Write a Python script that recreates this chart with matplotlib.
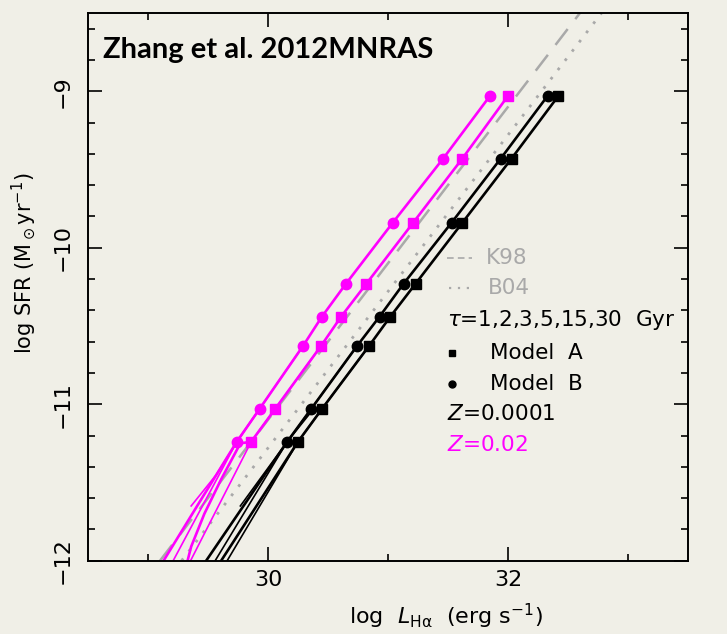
import matplotlib.pyplot as plt
from matplotlib.ticker import FixedLocator, MultipleLocator

# log SFR levels at which the model points are marked
sfr_marks = [-9.03, -9.43, -9.84, -10.23, -10.44, -10.63, -11.03, -11.24]

# log L(Halpha) of the marked points, Z=0.0001 (black)
lha_low_B = [32.33, 31.94, 31.53, 31.13, 30.93, 30.74, 30.36, 30.16]
lha_low_A = [32.42, 32.03, 31.62, 31.23, 31.02, 30.84, 30.45, 30.25]
# Z=0.02 (magenta)
lha_sol_B = [31.85, 31.46, 31.04, 30.65, 30.45, 30.29, 29.93, 29.74]
lha_sol_A = [32.00, 31.62, 31.21, 30.82, 30.61, 30.44, 30.06, 29.86]

# faint ends of the tau tracks below the last marked point
low_B_tail_x = [30.16, 29.485]
low_B_tail2_x = [30.74, 30.36, 30.16, 29.56]
low_B_tail2_y = [-10.63, -11.03, -11.24, -12.0]
low_B_start_x = [29.77, 30.16, 30.38]
low_B_start_y = [-11.65, -11.24, -11.03]
low_A_tail_x = [30.25, 29.61]
low_A_tail2_x = [30.84, 30.45, 30.25, 29.66]
low_A_tail2_y = [-10.63, -11.03, -11.24, -12.0]

sol_B_tail_x = [29.74, 29.45, 29.13]
sol_B_tail_y = [-11.24, -11.6, -12.0]
sol_B_tail2_x = [30.29, 29.93, 29.74, 29.21]
sol_B_tail2_y = [-10.63, -11.03, -11.24, -12.0]
sol_B_start_x = [29.36, 29.57, 29.74, 29.93]
sol_B_start_y = [-11.65, -11.45, -11.24, -11.03]
sol_A_tail_x = [29.86, 29.77, 29.61, 29.47, 29.36, 29.33]
sol_A_tail_y = [-11.24, -11.25, -11.48, -11.70, -11.91, -12.0]
sol_A_tail2_x = [30.44, 30.06, 29.86, 29.355]
sol_A_tail2_y = [-10.63, -11.03, -11.24, -12.0]

# calibrations
k98_x = [29.10, 32.60]
k98_y = [-12.0, -8.5]
b04_x = [29.28, 32.78]
b04_y = [-12.0, -8.5]

bg = '#f0efe7'
mag = '#ff00ff'
grey = '#a9a9a9'

plt.rcParams['font.family'] = 'DejaVu Sans'
plt.rcParams['mathtext.fontset'] = 'dejavusans'

fig = plt.figure(figsize=(7.27, 6.34), dpi=100, facecolor=bg)
ax = fig.add_axes([0.121, 0.1156, 0.8253, 0.8639])
ax.set_facecolor(bg)

ax.plot(k98_x, k98_y, color=grey, lw=1.8, dashes=(8, 5))
ax.plot(b04_x, b04_y, color=grey, lw=2.0, dashes=(1, 3.2))

# Z = 0.0001
ax.plot(lha_low_B + low_B_tail_x[1:], sfr_marks + [-12.0], color='k', lw=1.9)
ax.plot(low_B_tail2_x, low_B_tail2_y, color='k', lw=1.2)
ax.plot(low_B_start_x, low_B_start_y, color='k', lw=1.2)
ax.plot(lha_low_A + low_A_tail_x[1:], sfr_marks + [-12.0], color='k', lw=1.9)
ax.plot(low_A_tail2_x, low_A_tail2_y, color='k', lw=1.2)
ax.plot(lha_low_B, sfr_marks, 'o', color='k', ms=7.5)
ax.plot(lha_low_A, sfr_marks, 's', color='k', ms=7)

# Z = 0.02
ax.plot(lha_sol_B + sol_B_tail_x[1:], sfr_marks + sol_B_tail_y[1:], color=mag, lw=1.9)
ax.plot(sol_B_tail2_x, sol_B_tail2_y, color=mag, lw=1.2)
ax.plot(sol_B_start_x, sol_B_start_y, color=mag, lw=1.2)
ax.plot(lha_sol_A + sol_A_tail_x[1:], sfr_marks + sol_A_tail_y[1:], color=mag, lw=1.9)
ax.plot(sol_A_tail2_x, sol_A_tail2_y, color=mag, lw=1.2)
ax.plot(lha_sol_B, sfr_marks, 'o', color=mag, ms=7.5)
ax.plot(lha_sol_A, sfr_marks, 's', color=mag, ms=7)

ax.set_xlim(28.5, 33.5)
ax.set_ylim(-12, -8.5)

ax.xaxis.set_major_locator(FixedLocator([30, 32]))
ax.xaxis.set_minor_locator(FixedLocator([29, 31, 33]))
ax.yaxis.set_major_locator(MultipleLocator(1))
ax.yaxis.set_minor_locator(MultipleLocator(0.2))
ax.tick_params(which='both', direction='in', top=True, right=True, width=1.2)
ax.tick_params(which='major', length=10, labelsize=16)
ax.tick_params(which='minor', length=5)
ax.tick_params(axis='x', pad=7)
ax.tick_params(axis='y', pad=11)
for lab in ax.get_yticklabels():
    lab.set_rotation(90)
    lab.set_va('center')
for sp in ax.spines.values():
    sp.set_linewidth(1.4)

ax.set_xlabel(r'log  $L_{\rm H\alpha}$  (erg s$^{-1}$)', fontsize=16)
ax.xaxis.set_label_coords(0.597, -0.075)
ax.xaxis.label.set_va('top')
ax.set_ylabel(r'log SFR (M$_\odot$yr$^{-1}$)', fontsize=15)
ax.yaxis.set_label_coords(-0.083, 0.543)

ax.text(0.025, 0.932, 'Zhang et al. 2012MNRAS', transform=ax.transAxes,
        fontsize=21, fontweight='bold', family='Lato', va='center')

# key
ax.plot([0.598, 0.640], [0.553, 0.553], transform=ax.transAxes, color=grey, lw=1.2, dashes=(4, 2.5))
ax.text(0.664, 0.553, 'K98', transform=ax.transAxes, color=grey, fontsize=15.5, va='center')
ax.plot([0.602, 0.636], [0.498, 0.498], transform=ax.transAxes, color=grey, lw=1.6, dashes=(1, 3))
ax.text(0.667, 0.498, 'B04', transform=ax.transAxes, color=grey, fontsize=15.5, va='center')
ax.text(0.599, 0.4395, r'$\tau$=1,2,3,5,15,30  Gyr', transform=ax.transAxes, fontsize=15.5,
        va='center', clip_on=False)
ax.plot([0.606], [0.380], 's', color='k', ms=5, transform=ax.transAxes)
ax.text(0.670, 0.380, 'Model  A', transform=ax.transAxes, fontsize=15.5, va='center')
ax.plot([0.606], [0.3226], 'o', color='k', ms=5, transform=ax.transAxes)
ax.text(0.670, 0.3226, 'Model  B', transform=ax.transAxes, fontsize=15.5, va='center')
ax.text(0.599, 0.268, r'$Z$=0.0001', transform=ax.transAxes, fontsize=15.5, va='center')
ax.text(0.599, 0.211, r'$Z$=0.02', transform=ax.transAxes, fontsize=15.5, va='center', color=mag)

fig.savefig('out.png', dpi=100, facecolor=bg)
